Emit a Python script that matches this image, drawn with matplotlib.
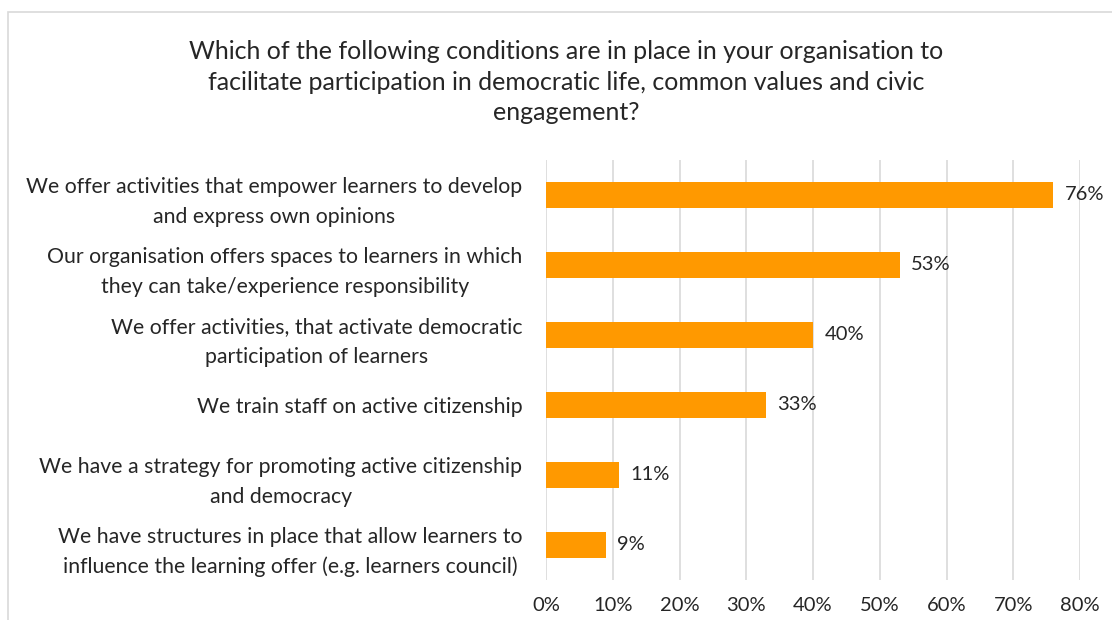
import matplotlib
matplotlib.use('Agg')
import matplotlib.pyplot as plt
from matplotlib.patches import Rectangle

plt.rcParams['font.family'] = ['Lato', 'DejaVu Sans']

categories = [
    'We offer activities that empower learners to develop\nand express own opinions',
    'Our organisation offers spaces to learners in which\nthey can take/experience responsibility',
    'We offer activities, that activate democratic\nparticipation of learners',
    'We train staff on active citizenship',
    'We have a strategy for promoting active citizenship\nand democracy',
    'We have structures in place that allow learners to\ninfluence the learning offer (e.g. learners council)',
]
shares = [76, 53, 40, 33, 11, 9]
xticks = [0, 10, 20, 30, 40, 50, 60, 70, 80]

title = ('Which of the following conditions are in place in your organisation to\n'
         'facilitate participation in democratic life, common values and civic\n'
         'engagement?')

text_col = '#262626'
bar_col = '#FF9900'
grid_col = '#D9D9D9'

fig = plt.figure(figsize=(11.12, 6.2), dpi=100)
ax = fig.add_axes([546 / 1112, 1 - 580 / 620, (1080 - 546) / 1112, 420 / 620])

# chart border
fig.patches.append(Rectangle((8 / 1112, -0.1), 1.2, 1 - 12 / 620 + 0.1,
                             transform=fig.transFigure, fill=False,
                             edgecolor='#D9D9D9', linewidth=1.2))

ypos = list(range(len(categories)))
ax.barh(ypos, shares, height=0.37, color=bar_col, zorder=3)
for y, v in zip(ypos, shares):
    ax.text(v + 1.7, y, f'{v}%', va='center', ha='left', fontsize=14.5, color=text_col)

ax.set_xlim(0, 80)
ax.set_ylim(len(categories) - 0.5, -0.5)
ax.set_xticks(xticks)
ax.set_xticklabels([f'{t}%' for t in xticks], fontsize=14.5, color=text_col)
ax.set_yticks(ypos)
ax.set_yticklabels(categories, fontsize=15.3, color=text_col)
for lab in ax.get_yticklabels():
    lab.set_multialignment('center')
    lab.set_linespacing(1.6)
ax.tick_params(axis='y', length=0, pad=17)
ax.tick_params(axis='x', length=0, pad=12)
ax.grid(axis='x', color=grid_col, linewidth=1.2, zorder=0)
for s in ax.spines.values():
    s.set_visible(False)

fig.text(566 / 1112, 1 - 82 / 620, title, ha='center', va='center', fontsize=18,
         color=text_col, linespacing=1.4)

fig.savefig('out.png', dpi=100)
